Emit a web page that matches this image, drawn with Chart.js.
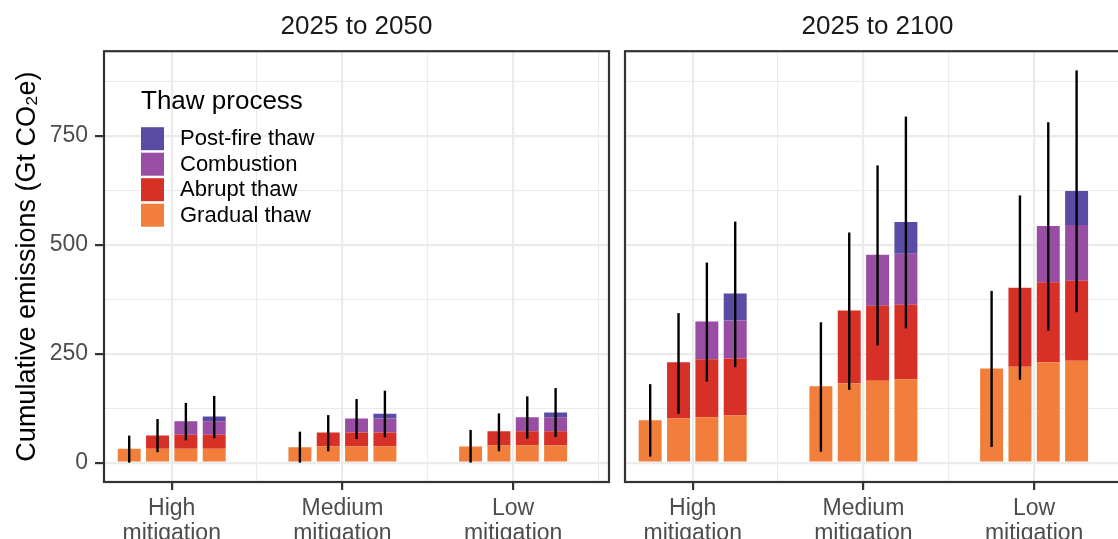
<!DOCTYPE html>
<html>
<head>
<meta charset="utf-8">
<script src="https://cdn.jsdelivr.net/npm/chart.js@4.4.1/dist/chart.umd.min.js"></script>
<style>
  html, body { margin: 0; padding: 0; background: #fff; overflow: hidden; width: 1118px; height: 539px; }
  .panel { position: absolute; top: 0; height: 539px; }
  #wrap2050 { left: 0; width: 617px; }
  #wrap2100 { left: 617px; width: 521px; }
</style>
</head>
<body>
<div class="panel" id="wrap2050"><canvas id="chart2050" width="617" height="539"></canvas></div>
<div class="panel" id="wrap2100"><canvas id="chart2100" width="521" height="539"></canvas></div>
<script>
    // ----------- DATA BLOCK ------------
    // one row per bar inside a group (gradual only, + abrupt, + combustion, + post-fire)
    // each row = [High, Medium, Low] mitigation, increments in Gt CO2e
    const groups = [['High', 'mitigation'], ['Medium', 'mitigation'], ['Low', 'mitigation']];
    const processes = ['Gradual thaw', 'Abrupt thaw', 'Combustion', 'Post-fire thaw'];
    const colours = ['#f17e3b', '#d73027', '#984ea3', '#5a4ba5'];
    const xTicks = [1, 2, 3];
    const xMinorTicks = [1.5, 2.5, 3.5];
    const yTicks = [0, 125, 250, 375, 500, 625, 750, 875];

    // 2025 to 2050
    const gradual2050 = [[32, 35, 37], [32, 37, 39], [32, 37, 39], [32, 37, 39]];
    const abrupt2050 = [null, [30, 32, 33], [32, 32, 33], [32, 32, 33]];
    const combustion2050 = [null, null, [31, 32, 32], [31, 32, 32]];
    const postfire2050 = [null, null, null, [11, 11, 11]];
    const errLow2050 = [[0, 0, 0], [24, 26, 26], [51, 54, 55], [56, 58, 59]];
    const errHigh2050 = [[62, 71, 75], [100, 109, 113], [137, 146, 152], [153, 165, 171]];

    // 2025 to 2100
    const gradual2100 = [[97, 175, 216], [101, 182, 220], [104, 188, 230], [108, 191, 234]];
    const abrupt2100 = [null, [129, 167, 181], [133, 172, 184], [131, 171, 183]];
    const combustion2100 = [null, null, [87, 117, 129], [87, 117, 128]];
    const postfire2100 = [null, null, null, [62, 73, 78]];
    const errLow2100 = [[14, 25, 36], [112, 167, 190], [186, 269, 303], [219, 308, 345]];
    const errHigh2100 = [[180, 322, 394], [343, 528, 613], [459, 682, 781], [553, 794, 900]];

    Chart.defaults.font.family = "'Liberation Sans', Arial, sans-serif";
    Chart.defaults.animation = false;

    function buildDatasets(parts) {
        var sets = [];
        for (var s = 0; s < 4; s++) {
            for (var c = 0; c < parts.length; c++) {
                if (!parts[c][s]) continue;
                sets.push({
                    label: processes[c],
                    stack: 'bar' + s,
                    data: parts[c][s].map((v, j) => ({x: xTicks[j], y: v})),
                    backgroundColor: colours[c],
                    borderWidth: 0,
                    categoryPercentage: 0.664,
                    barPercentage: 0.81
                });
            }
        }
        return sets;
    }

    // ----------- PLUGINS ------------
    const errorBars = {
        id: 'errorBars',
        afterDatasetsDraw(chart, args, opts) {
            const ctx = chart.ctx;
            const y = chart.scales.y;
            const sets = chart.data.datasets;
            ctx.save();
            ctx.strokeStyle = '#000';
            ctx.lineWidth = 2.4;
            sets.forEach((ds, i) => {
                // only the top segment of each stack carries the error bar
                if (sets[i + 1] && sets[i + 1].stack === ds.stack) return;
                const s = Number(ds.stack.replace('bar', ''));
                chart.getDatasetMeta(i).data.forEach((bar, j) => {
                    ctx.beginPath();
                    ctx.moveTo(bar.x, y.getPixelForValue(opts.low[s][j]));
                    ctx.lineTo(bar.x, y.getPixelForValue(opts.high[s][j]));
                    ctx.stroke();
                });
            });
            ctx.restore();
        }
    };

    const panelBorder = {
        id: 'panelBorder',
        afterDraw(chart) {
            const a = chart.chartArea;
            const ctx = chart.ctx;
            ctx.save();
            ctx.strokeStyle = '#333333';
            ctx.lineWidth = 2.2;
            ctx.strokeRect(a.left, a.top, a.right - a.left, a.bottom - a.top);
            ctx.restore();
        }
    };

    const thawLegend = {
        id: 'thawLegend',
        afterDraw(chart) {
            const a = chart.chartArea;
            const ctx = chart.ctx;
            const x0 = a.left + 37;
            ctx.save();
            ctx.fillStyle = '#000';
            ctx.textAlign = 'left';
            ctx.textBaseline = 'alphabetic';
            ctx.font = "26px 'Liberation Sans', Arial, sans-serif";
            ctx.fillText('Thaw process', x0, a.top + 58);
            ctx.font = "22px 'Liberation Sans', Arial, sans-serif";
            ctx.textBaseline = 'middle';
            for (var k = 0; k < 4; k++) {
                const c = 3 - k;
                const top = a.top + 76 + k * 25.5;
                ctx.fillStyle = colours[c];
                ctx.fillRect(x0, top, 23, 23);
                ctx.fillStyle = '#000';
                ctx.fillText(processes[c], x0 + 39, top + 12);
            }
            ctx.restore();
        }
    };

    // ----------- CONFIGURATION BLOCK ------------
    const isMajorY = (ctx) => ctx.tick && ctx.tick.value % 250 === 0;

    function makeScales(showY) {
        return {
            x: {
                type: 'linear', stacked: true, min: 0.6034, max: 3.5618, offset: false,
                afterBuildTicks: (axis) => { axis.ticks = xTicks.map(v => ({value: v})); },
                afterFit: (axis) => { axis.height = 57; },
                ticks: {
                    autoSkip: false, maxRotation: 0, padding: 6, color: '#4d4d4d',
                    font: {size: 23, lineHeight: 1.1},
                    callback: (v) => groups[v - 1]
                },
                grid: { offset: false, color: '#ebebeb', lineWidth: 2.2, tickColor: '#333333', tickWidth: 2.2, tickLength: 8 },
                border: { display: false }
            },
            xMinor: {
                type: 'linear', position: 'bottom', min: 0.6034, max: 3.5618, offset: false,
                afterBuildTicks: (axis) => { axis.ticks = xMinorTicks.map(v => ({value: v})); },
                afterFit: (axis) => { axis.height = 0; },
                ticks: { display: false },
                grid: { offset: false, color: '#ebebeb', lineWidth: 1.1, drawTicks: false },
                border: { display: false }
            },
            y: {
                stacked: true, min: -44.5, max: 944,
                afterBuildTicks: (axis) => { axis.ticks = yTicks.map(v => ({value: v})); },
                afterFit: (axis) => { axis.width = showY ? 104 : 0; },
                ticks: {
                    display: showY, padding: 7, color: '#4d4d4d', font: {size: 23},
                    callback: (v) => (v % 250 === 0 ? v : '')
                },
                grid: {
                    color: '#ebebeb',
                    lineWidth: (ctx) => (isMajorY(ctx) ? 2.2 : 1.1),
                    tickColor: (ctx) => (isMajorY(ctx) ? '#333333' : 'rgba(0,0,0,0)'),
                    tickWidth: 2.2,
                    tickLength: showY ? 9 : 0,
                    drawTicks: showY
                },
                border: { display: false },
                title: {
                    display: showY, text: 'Cumulative emissions (Gt CO₂e)', color: '#000',
                    font: {size: 27}, padding: {top: 11, bottom: 0}
                }
            }
        };
    }

    function makeConfig(titleText, parts, low, high, showY, padLeft) {
        return {
            type: 'bar',
            data: { datasets: buildDatasets(parts) },
            options: {
                responsive: false,
                layout: { padding: {left: padLeft, right: 8, top: 0, bottom: 0} },
                scales: makeScales(showY),
                plugins: {
                    legend: { display: false },
                    tooltip: { enabled: false },
                    title: {
                        display: true, text: titleText, fullSize: false, color: '#1a1a1a',
                        font: {size: 26, weight: 'normal'}, padding: {top: 11, bottom: 9}
                    },
                    errorBars: { low: low, high: high }
                }
            },
            plugins: showY ? [errorBars, panelBorder, thawLegend] : [errorBars, panelBorder]
        };
    }

    // -------- RENDER BLOCK -------
    const chart2050 = new Chart(
        document.getElementById('chart2050').getContext('2d'),
        makeConfig('2025 to 2050', [gradual2050, abrupt2050, combustion2050, postfire2050], errLow2050, errHigh2050, true, 0)
    );
    const chart2100 = new Chart(
        document.getElementById('chart2100').getContext('2d'),
        makeConfig('2025 to 2100', [gradual2100, abrupt2100, combustion2100, postfire2100], errLow2100, errHigh2100, false, 8)
    );
</script>
</body>
</html>
